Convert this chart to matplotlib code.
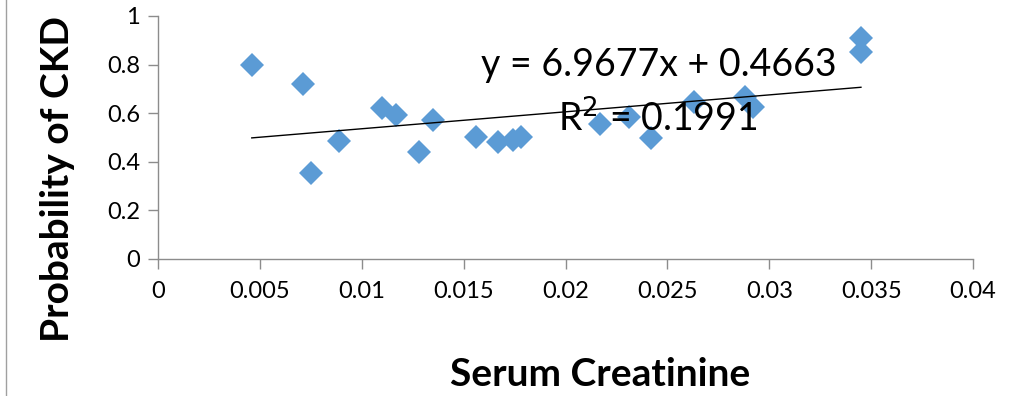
import matplotlib.pyplot as plt
from matplotlib.lines import Line2D

# values
serum = [0.0046, 0.0071, 0.0075, 0.0089, 0.0110, 0.0117, 0.0128, 0.0135,
         0.0156, 0.0167, 0.0174, 0.0178, 0.0217, 0.0231, 0.0242, 0.0263,
         0.0288, 0.0292, 0.0345, 0.0345]
prob = [0.798, 0.720, 0.352, 0.486, 0.621, 0.593, 0.440, 0.572,
        0.502, 0.481, 0.490, 0.502, 0.556, 0.584, 0.498, 0.646,
        0.667, 0.626, 0.909, 0.852]
slope = 6.9677
intercept = 0.4663
r2 = 0.1991

plt.rcParams['font.family'] = ['Lato', 'DejaVu Sans']

fig = plt.figure(figsize=(10.21, 3.96), dpi=100)
ax = fig.add_axes([0.1548, 0.346, 0.953 - 0.1548, 0.9596 - 0.346])

ax.plot(serum, prob, linestyle='none', marker='D', markersize=12,
        color='#5B9BD5', markeredgewidth=0)

xs = [min(serum), max(serum)]
ax.plot(xs, [slope * x + intercept for x in xs], color='black', linewidth=1)

ax.text(0.0246, 0.80, 'y = %.4fx + %.4f' % (slope, intercept),
        ha='center', va='center', fontsize=27)
ax.text(0.0245, 0.575, 'R$^2$ = %.4f' % r2,
        ha='center', va='center', fontsize=27)

ax.set_xlim(0, 0.04)
ax.set_ylim(0, 1)
ax.set_xticks([0, 0.005, 0.01, 0.015, 0.02, 0.025, 0.03, 0.035, 0.04])
ax.set_xticklabels(['0', '0.005', '0.01', '0.015', '0.02', '0.025', '0.03', '0.035', '0.04'])
ax.set_yticks([0, 0.2, 0.4, 0.6, 0.8, 1])
ax.set_yticklabels(['0', '0.2', '0.4', '0.6', '0.8', '1'])

for s in ['top', 'right']:
    ax.spines[s].set_visible(False)
for s in ['left', 'bottom']:
    ax.spines[s].set_color('#8c8c8c')
    ax.spines[s].set_linewidth(1)
ax.tick_params(axis='both', color='#8c8c8c', length=7, width=1, labelsize=17)
ax.tick_params(axis='x', pad=9)
ax.tick_params(axis='y', pad=6)

ax.set_xlabel('Serum Creatinine', fontsize=28, fontweight='bold', va='center')
ax.xaxis.set_label_coords(0.542, -0.477)
ax.set_ylabel('Probability of CKD', fontsize=28, fontweight='bold', va='center')
ax.yaxis.set_label_coords(-0.123, 0.33)

fig.add_artist(Line2D([0.006, 0.006], [0, 1], transform=fig.transFigure,
                      color='#a0a0a0', linewidth=1))

fig.savefig('out.png', dpi=100)
